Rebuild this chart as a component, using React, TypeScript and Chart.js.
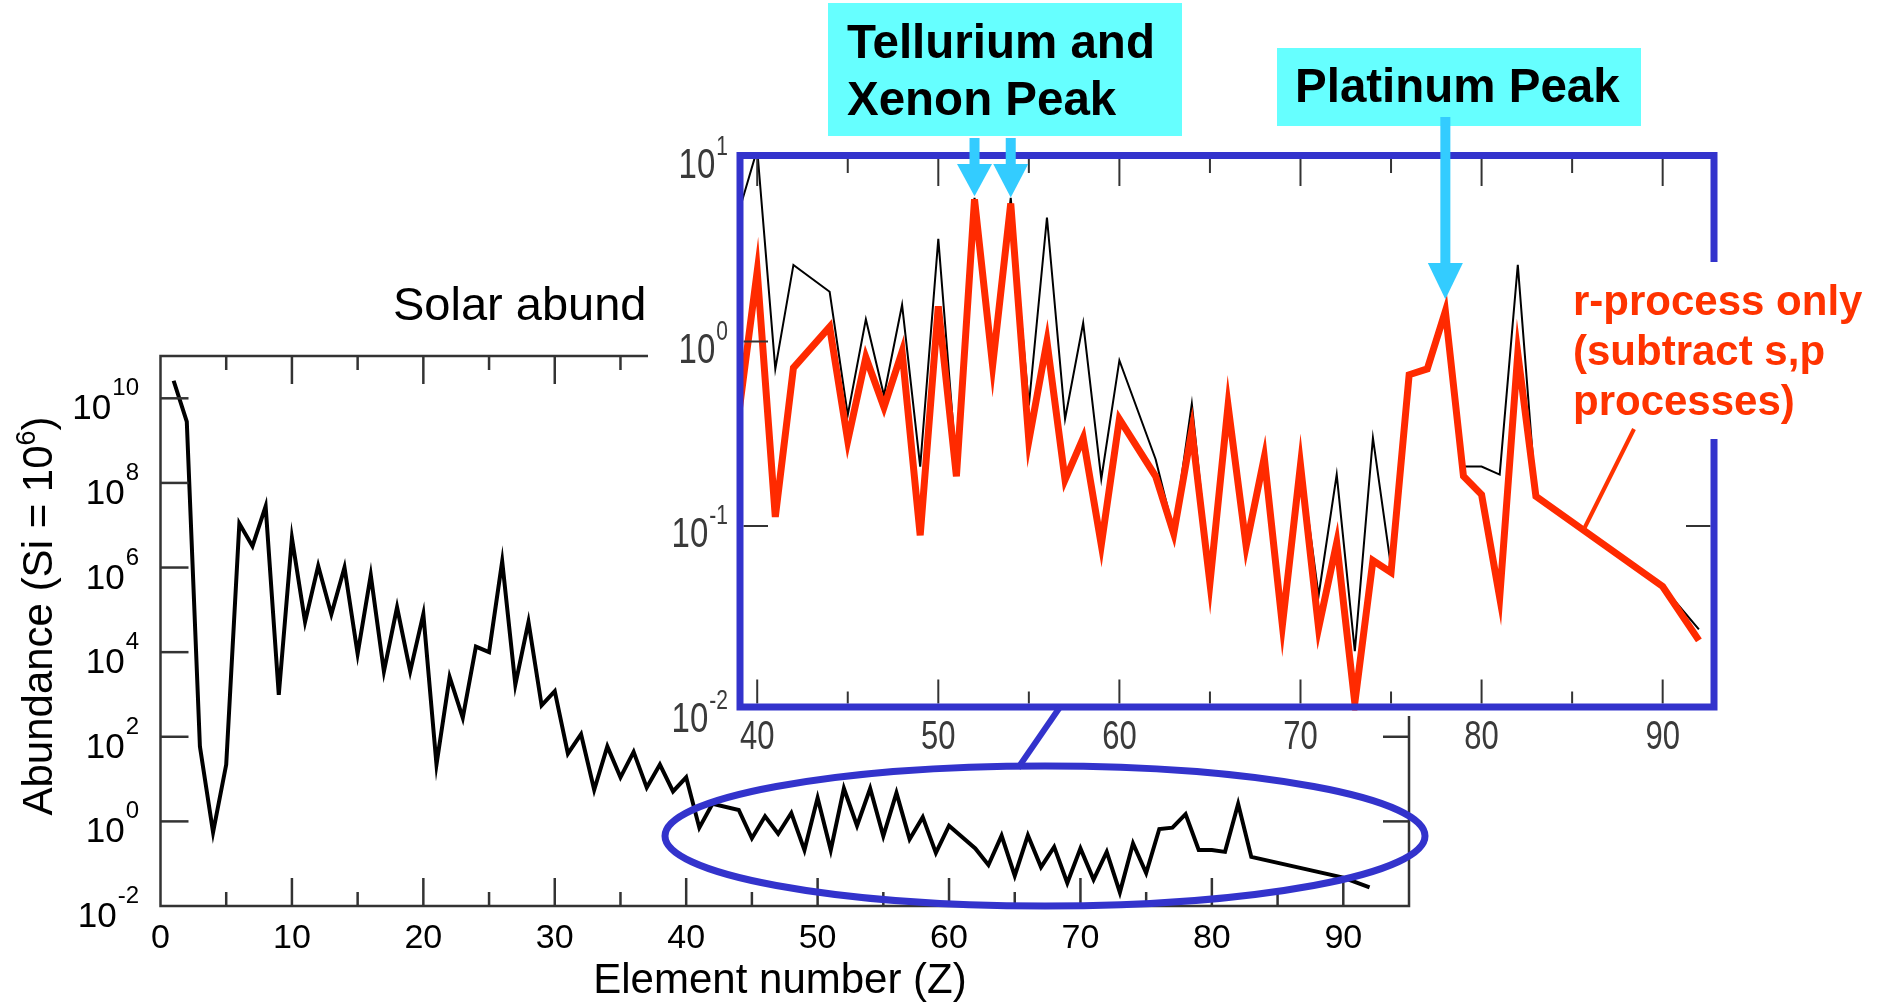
import { useEffect, useRef } from "react";
import { Chart, registerables } from "chart.js";

Chart.register(...registerables);

const W = 1885;
const H = 1006;

// Solar-system abundances, normalised to Si = 1e6 (elements without stable isotopes are absent)
const solarZ = [
  1, 2, 3, 4, 5, 6, 7, 8, 9, 10, 11, 12, 13, 14, 15, 16, 17, 18, 19, 20,
  21, 22, 23, 24, 25, 26, 27, 28, 29, 30, 31, 32, 33, 34, 35, 36, 37, 38, 39, 40,
  41, 42, 44, 45, 46, 47, 48, 49, 50, 51, 52, 53, 54, 55, 56, 57, 58, 59, 60,
  62, 63, 64, 65, 66, 67, 68, 69, 70, 71, 72, 73, 74, 75, 76, 77, 78, 79, 80, 81, 82, 83,
  90, 92,
];
const solarAbundance = [
  2.6e10, 2.8e9, 59, 0.55, 22, 1.1e7, 3.2e6, 2.8e7, 980, 5.0e6,
  5.2e4, 1.1e6, 7.9e4, 1.0e6, 9.1e3, 6.6e5, 3.5e3, 1.15e5, 3.5e3, 7.9e4,
  22, 2.6e3, 280, 1.35e4, 1.0e4, 1.4e6, 1.7e3, 5.2e4, 550, 1.2e3,
  40, 115, 5.6, 59, 11, 44, 6.3, 22, 5.1, 11,
  0.71, 2.6, 1.86, 0.4, 1.32, 0.51, 1.58, 0.21, 3.6, 0.21, 6.0, 0.79, 6.0, 0.45, 4.7, 0.38, 1.26, 0.18, 0.79,
  0.23, 0.093, 0.46, 0.052, 0.47, 0.083, 0.25, 0.035, 0.23, 0.042, 0.19, 0.021, 0.3, 0.06, 0.66, 0.71, 1.48, 0.21, 0.21, 0.19, 2.6, 0.145,
  0.047, 0.0275,
];

// r-process contribution only (s- and p-process parts removed)
const rProcessZ = [
  39, 40, 41, 42, 44, 45, 46, 47, 48, 49, 50, 51, 52, 53, 54, 55, 56, 57, 58, 59, 60,
  62, 63, 64, 65, 66, 67, 68, 69, 70, 71, 72, 73, 74, 75, 76, 77, 78, 79, 80, 81, 82, 83,
  90, 92,
];
const rProcessAbundance = [
  0.42, 2.4, 0.112, 0.72, 1.2, 0.29, 0.82, 0.44, 0.88, 0.089, 1.55, 0.186, 5.9, 0.74, 5.6, 0.29, 1.0, 0.178, 0.3, 0.079, 0.38,
  0.186, 0.091, 0.33, 0.049, 0.45, 0.078, 0.235, 0.029, 0.214, 0.028, 0.081, 0.011, 0.065, 0.056, 0.66, 0.71, 1.46, 0.186, 0.148, 0.041, 0.86, 0.145,
  0.047, 0.024,
];

const mainXTicks = [0, 10, 20, 30, 40, 50, 60, 70, 80, 90];
const mainYExponents = [-2, 0, 2, 4, 6, 8, 10];
const insetXTicks = [40, 50, 60, 70, 80, 90];
const insetYExponents = [-2, -1, 0, 1];

// Highlighted peaks: element number and label
const peakArrows = [
  { z: 52, gap: 3, from: 138, headTop: 164 },
  { z: 54, gap: 6, from: 138, headTop: 164 },
  { z: 78, gap: 12, from: 117, headTop: 263 },
];
const peakBoxTeXe = ["Tellurium and", "Xenon Peak"];
const peakBoxPt = ["Platinum Peak"];
const rProcessNote = ["r-process only", "(subtract s,p", "processes)"];

const SANS = '"Liberation Sans", Arial, Helvetica, sans-serif';
const FRAME_BLUE = "#3333cc";
const CYAN_BOX = "#66ffff";
const ARROW_CYAN = "#33ccff";
const NOTE_RED = "#ff3300";

function toPoints(xs: number[], ys: number[]) {
  return xs.map((x, i) => ({ x, y: ys[i] }));
}

function line(ctx: CanvasRenderingContext2D, x1: number, y1: number, x2: number, y2: number) {
  ctx.beginPath();
  ctx.moveTo(x1, y1);
  ctx.lineTo(x2, y2);
  ctx.stroke();
}

// "10" with a raised exponent, right-aligned at rightX; optional vertical stretch
function drawPower(
  ctx: CanvasRenderingContext2D,
  exp: string,
  rightX: number,
  baseY: number,
  baseSize: number,
  expSize: number,
  raise: number,
  stretch = 1
) {
  ctx.save();
  ctx.textAlign = "left";
  ctx.textBaseline = "alphabetic";
  ctx.font = `${expSize}px ${SANS}`;
  const ew = ctx.measureText(exp).width;
  ctx.font = `${baseSize}px ${SANS}`;
  const bw = ctx.measureText("10").width;
  const bx = rightX - ew - 1 - bw;
  ctx.translate(bx, baseY);
  ctx.scale(1, stretch);
  ctx.fillText("10", 0, 0);
  ctx.font = `${expSize}px ${SANS}`;
  ctx.fillText(exp, bw + 1, -raise / stretch);
  ctx.restore();
}

const mainDecor = {
  id: "mainDecor",
  afterDraw(chart: any) {
    const { ctx, chartArea: a } = chart;
    const x = chart.scales.x;
    const y = chart.scales.y;
    ctx.save();
    ctx.strokeStyle = "#333";
    ctx.lineWidth = 2.5;
    ctx.strokeRect(a.left, a.top, a.right - a.left, a.bottom - a.top);

    // inward ticks
    for (let v = 5; v < 95; v += 5) {
      const px = x.getPixelForValue(v);
      const len = v % 10 === 0 ? 28 : 14;
      line(ctx, px, a.bottom, px, a.bottom - len);
      line(ctx, px, a.top, px, a.top + len);
    }
    for (const e of mainYExponents) {
      if (e === -2) continue;
      const py = y.getPixelForValue(Math.pow(10, e));
      line(ctx, a.left, py, a.left + 28, py);
      line(ctx, a.right, py, a.right - 26, py);
    }

    ctx.fillStyle = "#000";
    // x tick labels
    ctx.font = `34px ${SANS}`;
    ctx.textAlign = "center";
    ctx.textBaseline = "alphabetic";
    for (const v of mainXTicks) {
      ctx.fillText(String(v), x.getPixelForValue(v), 948);
    }
    // y tick labels
    for (const e of mainYExponents) {
      const py = y.getPixelForValue(Math.pow(10, e));
      drawPower(ctx, String(e), 139, py + 21, 35, 24, 24);
    }

    // axis titles
    ctx.font = `42px ${SANS}`;
    ctx.textAlign = "center";
    ctx.fillText("Element number (Z)", 780, 993);

    ctx.save();
    ctx.translate(52, 616);
    ctx.rotate(-Math.PI / 2);
    const big = `42px ${SANS}`;
    const small = `27px ${SANS}`;
    ctx.font = big;
    const p1 = "Abundance (Si = 10";
    const w1 = ctx.measureText(p1).width;
    const w3 = ctx.measureText(")").width;
    ctx.font = small;
    const w2 = ctx.measureText("6").width;
    let sx = -(w1 + w2 + w3) / 2;
    ctx.textAlign = "left";
    ctx.font = big;
    ctx.fillText(p1, sx, 0);
    sx += w1;
    ctx.font = small;
    ctx.fillText("6", sx, -17);
    sx += w2;
    ctx.font = big;
    ctx.fillText(")", sx, 0);
    ctx.restore();

    // plot title (partly hidden by the zoomed panel)
    ctx.font = `47px ${SANS}`;
    ctx.textAlign = "left";
    ctx.fillText("Solar abundances", 393, 320);
    ctx.restore();
  },
};

const insetDecor = {
  id: "insetDecor",
  beforeDraw(chart: any) {
    const { ctx } = chart;
    ctx.save();
    ctx.fillStyle = "#fff";
    ctx.fillRect(648, 140, 1735 - 648, 716 - 140);
    ctx.restore();
  },
  beforeDatasetsDraw(chart: any) {
    chart.ctx.save();
    chart.ctx.filter = "blur(0.6px)";
  },
  afterDatasetsDraw(chart: any) {
    chart.ctx.restore();
  },
  afterDraw(chart: any) {
    const { ctx } = chart;
    const x = chart.scales.x;
    const y = chart.scales.y;
    const fl = 740, ft = 155.5, fr = 1714, fb = 707;
    ctx.save();

    // ticks and labels of the zoomed panel
    ctx.filter = "blur(0.5px)";
    ctx.strokeStyle = "#333";
    ctx.lineWidth = 2;
    for (let v = 40; v <= 90; v += 5) {
      const px = x.getPixelForValue(v);
      const long = v % 10 === 0;
      line(ctx, px, ft + 3.5, px, ft + 3.5 + (long ? 27 : 14));
      line(ctx, px, fb - 3.5, px, fb - 3.5 - (long ? 24 : 12));
    }
    for (const e of [0, -1]) {
      const py = y.getPixelForValue(Math.pow(10, e));
      line(ctx, fl + 3.5, py, fl + 28, py);
      line(ctx, fr - 3.5, py, fr - 28, py);
    }
    ctx.fillStyle = "#3a3a3a";
    for (const v of insetXTicks) {
      const px = x.getPixelForValue(v);
      ctx.save();
      ctx.font = `31px ${SANS}`;
      ctx.textAlign = "center";
      ctx.translate(px, 749);
      ctx.scale(1, 1.3);
      ctx.fillText(String(v), 0, 0);
      ctx.restore();
    }
    for (const e of insetYExponents) {
      const py = y.getPixelForValue(Math.pow(10, e));
      drawPower(ctx, String(e), 728, py + 21, 33, 21, 23, 1.3);
    }
    ctx.filter = "none";

    // panel frame
    ctx.strokeStyle = FRAME_BLUE;
    ctx.lineWidth = 7;
    ctx.strokeRect(fl, ft, fr - fl, fb - ft);

    // link from the panel to the highlighted region of the main plot
    ctx.lineWidth = 6;
    line(ctx, 1060, fb, 1018, 768);
    ctx.lineWidth = 7;
    ctx.beginPath();
    ctx.ellipse(1045, 836, 380, 70, 0, 0, Math.PI * 2);
    ctx.stroke();

    // label boxes
    ctx.fillStyle = CYAN_BOX;
    ctx.fillRect(828, 3, 1182 - 828, 136 - 3);
    ctx.fillRect(1277, 48, 1641 - 1277, 126 - 48);
    ctx.fillStyle = "#000";
    ctx.font = `bold 47.5px ${SANS}`;
    ctx.textAlign = "left";
    ctx.textBaseline = "alphabetic";
    ctx.fillText(peakBoxTeXe[0], 847, 58);
    ctx.fillText(peakBoxTeXe[1], 847, 115);
    ctx.fillText(peakBoxPt[0], 1295, 102);

    // arrows to the peaks
    ctx.fillStyle = ARROW_CYAN;
    const rIdx = (z: number) => rProcessZ.indexOf(z);
    for (const pk of peakArrows) {
      const px = x.getPixelForValue(pk.z);
      const tip = y.getPixelForValue(rProcessAbundance[rIdx(pk.z)]) - pk.gap;
      const headW = 35;
      ctx.fillRect(px - 5, pk.from, 10, pk.headTop - pk.from + 1);
      ctx.beginPath();
      ctx.moveTo(px - headW / 2, pk.headTop);
      ctx.lineTo(px + headW / 2, pk.headTop);
      ctx.lineTo(px, tip);
      ctx.closePath();
      ctx.fill();
    }

    // r-process note
    ctx.fillStyle = "#fff";
    ctx.fillRect(1560, 262, W - 1560, 439 - 262);
    ctx.fillStyle = NOTE_RED;
    ctx.font = `bold 42px ${SANS}`;
    rProcessNote.forEach((t, i) => ctx.fillText(t, 1573, 315 + i * 50));
    ctx.strokeStyle = NOTE_RED;
    ctx.lineWidth = 4;
    line(ctx, 1634, 429, 1584, 529);

    ctx.restore();
  },
};

export default function App() {
  const mainRef = useRef<HTMLCanvasElement>(null);
  const insetRef = useRef<HTMLCanvasElement>(null);

  useEffect(() => {
    if (!mainRef.current || !insetRef.current) return;

    const main = new Chart(mainRef.current, {
      type: "line",
      data: {
        datasets: [
          {
            data: toPoints(solarZ, solarAbundance),
            borderColor: "#000",
            borderWidth: 4,
            pointRadius: 0,
            tension: 0,
            fill: false,
          },
        ],
      },
      options: {
        responsive: false,
        animation: false,
        devicePixelRatio: 1,
        events: [],
        layout: { padding: { left: 160.5, top: 356, right: W - 1409, bottom: H - 906 } },
        scales: {
          x: { type: "linear", min: 0, max: 95, display: false },
          y: { type: "logarithmic", min: 1e-2, max: 1e11, display: false },
        },
        plugins: { legend: { display: false }, tooltip: { enabled: false } },
      },
      plugins: [mainDecor],
    } as any);

    const inset = new Chart(insetRef.current, {
      type: "line",
      data: {
        datasets: [
          {
            label: "r-process",
            data: toPoints(rProcessZ, rProcessAbundance),
            borderColor: "#ff2a00",
            borderWidth: 7,
            pointRadius: 0,
            tension: 0,
            fill: false,
            order: 0,
          },
          {
            label: "solar",
            data: toPoints(solarZ, solarAbundance),
            borderColor: "#000",
            borderWidth: 2,
            pointRadius: 0,
            tension: 0,
            fill: false,
            order: 1,
          },
        ],
      },
      options: {
        responsive: false,
        animation: false,
        devicePixelRatio: 1,
        events: [],
        layout: { padding: { left: 739.1, top: 157, right: W - 1717, bottom: H - 710.5 } },
        scales: {
          x: { type: "linear", min: 39, max: 93, display: false },
          y: { type: "logarithmic", min: 1e-2, max: 10, display: false },
        },
        plugins: { legend: { display: false }, tooltip: { enabled: false } },
      },
      plugins: [insetDecor],
    } as any);

    return () => {
      main.destroy();
      inset.destroy();
    };
  }, []);

  return (
    <div style={{ position: "fixed", left: 0, top: 0, width: W, height: H, background: "#fff" }}>
      <canvas ref={mainRef} width={W} height={H} style={{ position: "absolute", left: 0, top: 0, width: W, height: H }} />
      <canvas ref={insetRef} width={W} height={H} style={{ position: "absolute", left: 0, top: 0, width: W, height: H }} />
    </div>
  );
}
